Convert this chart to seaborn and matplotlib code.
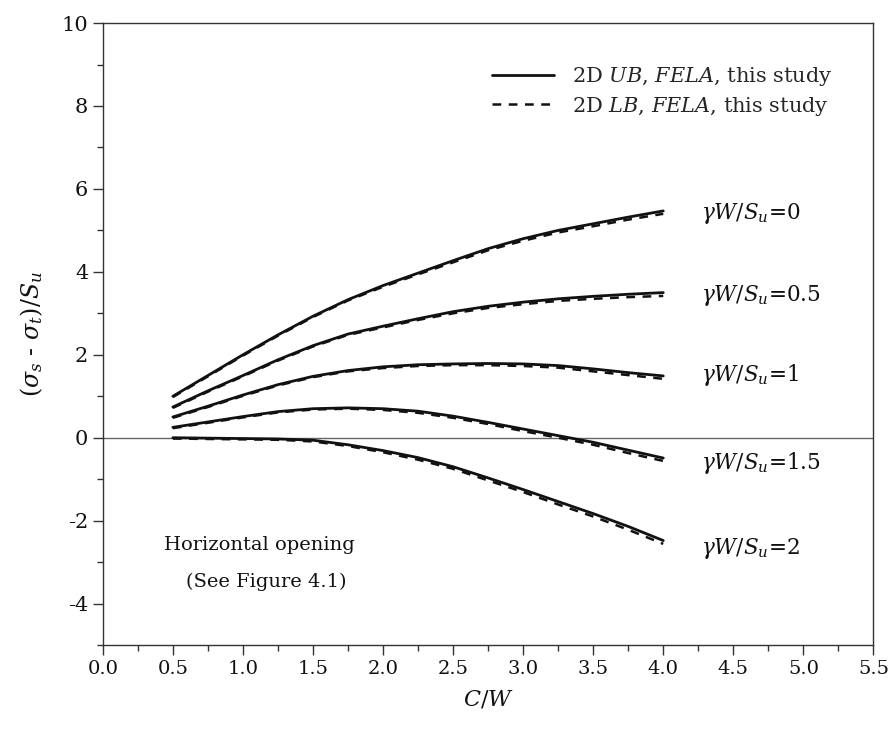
import numpy as np
import pandas as pd
import matplotlib
matplotlib.use("Agg")
import matplotlib.pyplot as plt
from matplotlib.ticker import MultipleLocator
import seaborn as sns

# C/W values shared by every curve
cw = [0.5, 0.75, 1.0, 1.25, 1.5, 1.75, 2.0, 2.25, 2.5, 2.75, 3.0, 3.25, 3.5, 3.75, 4.0]

# unit weight ratios gamma*W/Su
gamma_labels = ["0", "0.5", "1", "1.5", "2"]

# upper bound (solid) stability numbers
ub_g0 = [1.00, 1.50, 2.00, 2.48, 2.93, 3.33, 3.67, 3.97, 4.27, 4.56, 4.80, 5.00, 5.16, 5.32, 5.47]
ub_g05 = [0.74, 1.13, 1.50, 1.88, 2.22, 2.50, 2.69, 2.87, 3.04, 3.17, 3.27, 3.35, 3.41, 3.46, 3.50]
ub_g1 = [0.50, 0.76, 1.03, 1.28, 1.48, 1.62, 1.71, 1.76, 1.78, 1.79, 1.78, 1.74, 1.66, 1.57, 1.49]
ub_g15 = [0.25, 0.38, 0.51, 0.63, 0.70, 0.72, 0.70, 0.64, 0.52, 0.37, 0.21, 0.05, -0.11, -0.30, -0.49]
ub_g2 = [0.00, -0.01, -0.02, -0.03, -0.06, -0.17, -0.31, -0.48, -0.70, -0.97, -1.25, -1.54, -1.83, -2.14, -2.48]

# lower bound (dashed) stability numbers
lb_g0 = [0.98, 1.48, 1.98, 2.46, 2.91, 3.31, 3.64, 3.94, 4.23, 4.52, 4.75, 4.95, 5.10, 5.26, 5.40]
lb_g05 = [0.72, 1.11, 1.48, 1.86, 2.20, 2.48, 2.66, 2.84, 3.00, 3.13, 3.22, 3.30, 3.35, 3.39, 3.42]
lb_g1 = [0.48, 0.74, 1.01, 1.26, 1.46, 1.60, 1.68, 1.73, 1.75, 1.75, 1.73, 1.69, 1.60, 1.51, 1.42]
lb_g15 = [0.23, 0.36, 0.49, 0.61, 0.68, 0.70, 0.67, 0.60, 0.48, 0.33, 0.16, 0.00, -0.17, -0.37, -0.56]
lb_g2 = [-0.02, -0.03, -0.04, -0.05, -0.09, -0.20, -0.35, -0.53, -0.75, -1.03, -1.31, -1.61, -1.90, -2.22, -2.56]

ub_series = [ub_g0, ub_g05, ub_g1, ub_g15, ub_g2]
lb_series = [lb_g0, lb_g05, lb_g1, lb_g15, lb_g2]

rows = []
for g, ub, lb in zip(gamma_labels, ub_series, lb_series):
    for x, u, l in zip(cw, ub, lb):
        rows.append({"cw": x, "val": u, "gamma": g, "bound": "UB"})
        rows.append({"cw": x, "val": l, "gamma": g, "bound": "LB"})
df = pd.DataFrame(rows)

sns.set_theme(style="ticks")
plt.rcParams["font.family"] = ["DejaVu Serif"]
plt.rcParams["mathtext.fontset"] = "dejavuserif"

fig = plt.figure(figsize=(8.94, 7.44), dpi=100)
ax = fig.add_axes([0.115, 0.133, 0.862, 0.836])

ink = "#111111"
dash = (0, (3.5, 3.0))

for i, g in enumerate(gamma_labels):
    sub = df[df["gamma"] == g]
    sns.lineplot(data=sub[sub["bound"] == "UB"], x="cw", y="val", ax=ax,
                 color=ink, lw=2.0, label="2D $UB$, $FELA$, this study" if i == 0 else None,
                 legend=False)
    sns.lineplot(data=sub[sub["bound"] == "LB"], x="cw", y="val", ax=ax,
                 color=ink, lw=1.8, linestyle=dash,
                 label="2D $LB$, $FELA$, this study" if i == 0 else None,
                 legend=False)

ax.axhline(0, color="#666666", lw=1.0, zorder=0)

# curve labels beside the line ends
label_y = [5.41, 3.44, 1.51, -0.61, -2.66]
for g, yv in zip(gamma_labels, label_y):
    ax.text(4.27, yv, r"$\gamma W/S_u$=" + g, fontsize=15.5, color=ink,
            ha="left", va="center")

ax.text(1.115, -2.59, "Horizontal opening", fontsize=14, color=ink,
        ha="center", va="center")
ax.text(1.17, -3.48, "(See Figure 4.1)", fontsize=14, color=ink,
        ha="center", va="center")

ax.set_xlim(0, 5.5)
ax.set_ylim(-5, 10)
ax.xaxis.set_major_locator(MultipleLocator(0.5))
ax.xaxis.set_minor_locator(MultipleLocator(0.25))
ax.yaxis.set_major_locator(MultipleLocator(2))
ax.yaxis.set_minor_locator(MultipleLocator(1))
ax.set_xticklabels([f"{v:.1f}" for v in ax.get_xticks()])
ax.set_yticks(np.arange(-4, 12, 2))
ax.set_yticklabels([f"{int(v)}" for v in np.arange(-4, 12, 2)])
ax.set_ylim(-5, 10)

ax.tick_params(axis="both", which="major", length=7, width=1.0, color="#333333",
               labelcolor=ink, direction="out")
ax.tick_params(axis="x", which="major", labelsize=14)
ax.tick_params(axis="y", which="major", labelsize=15)
ax.tick_params(axis="both", which="minor", length=4, width=1.0, color="#333333",
               direction="out")
ax.tick_params(top=False, right=False, which="both")

for side in ["left", "bottom", "top", "right"]:
    ax.spines[side].set_visible(True)
    ax.spines[side].set_color("#333333")
    ax.spines[side].set_linewidth(1.0)

ax.set_xlabel("$C/W$", fontsize=16, color=ink, labelpad=8)
ax.set_ylabel(r"$(\sigma_s$ - $\sigma_t)/S_u$", fontsize=17, color=ink, labelpad=12)

ax.legend(loc="upper right", bbox_to_anchor=(0.971, 0.962), frameon=False,
          fontsize=15, handlelength=3.0, handletextpad=0.85, labelspacing=0.3)

fig.savefig("out.png", dpi=100)
